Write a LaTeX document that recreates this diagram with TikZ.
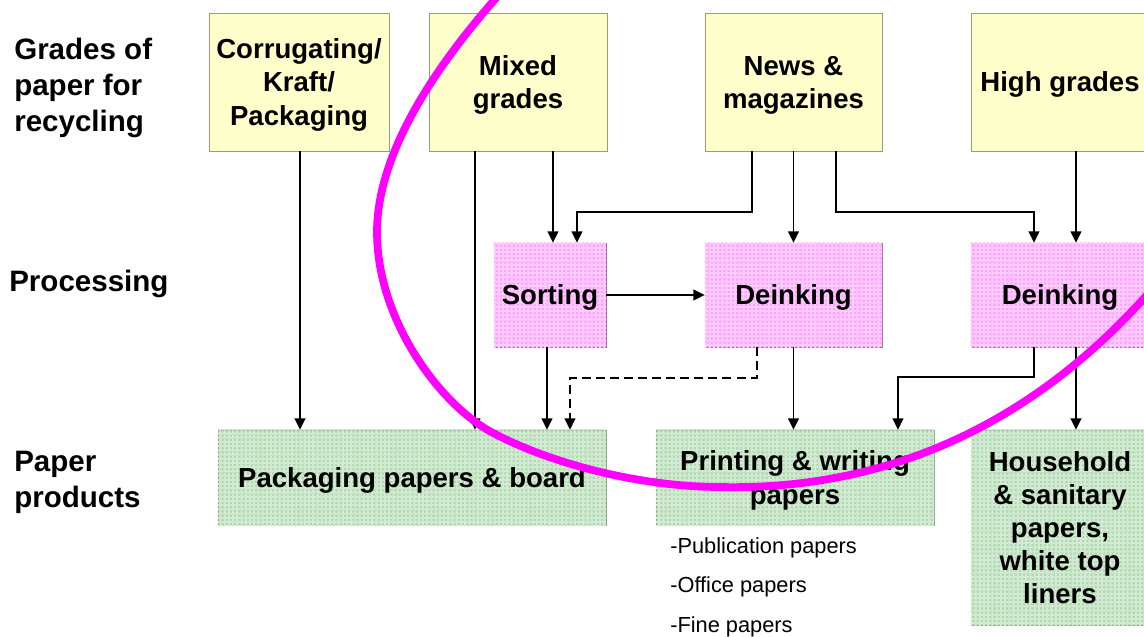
\documentclass[tikz,border=0pt]{standalone}
\usepackage{fontspec}
\setmainfont{Liberation Sans}
\usetikzlibrary{arrows.meta}
\usetikzlibrary{patterns}

\definecolor{gradefill}{HTML}{FFFFCC}
\definecolor{gradeline}{HTML}{9C9C78}
\definecolor{procfill}{HTML}{FF9CFF}
\definecolor{procgrid}{HTML}{FFCCFF}
\definecolor{procline}{HTML}{A066A0}
\definecolor{prodfill}{HTML}{ACD6AC}
\definecolor{prodgrid}{HTML}{D2EBD2}
\definecolor{prodline}{HTML}{8CA08C}
\definecolor{loopcol}{RGB}{255,0,255}

% checked cloth look of the boxes
\pgfdeclarepatternformonly{gingham}{\pgfqpoint{-0.1pt}{-0.1pt}}{\pgfqpoint{3.1pt}{3.1pt}}{\pgfqpoint{3pt}{3pt}}{
  \pgfpathrectangle{\pgfqpoint{0pt}{0pt}}{\pgfqpoint{1.5pt}{3pt}}
  \pgfpathrectangle{\pgfqpoint{0pt}{0pt}}{\pgfqpoint{3pt}{1.5pt}}
  \pgfusepath{fill}
}

\newcommand{\boxfont}{\fontsize{19.6}{23.5}\selectfont\bfseries}
\newcommand{\rowfont}{\fontsize{21}{25.5}\selectfont\bfseries}
\newcommand{\listfont}{\fontsize{15.5}{18}\selectfont}

\begin{document}
\begin{tikzpicture}[x=0.025cm, y=-0.025cm,
    grade/.style = {draw=gradeline, fill=gradefill, font=\boxfont, align=center,
                    minimum height=3.45cm, inner sep=2pt, text depth=-1pt},
    proc/.style  = {draw=procline, fill=procfill, postaction={pattern=gingham, pattern color=procgrid},
                    font=\boxfont, align=center, minimum height=2.6cm, inner sep=2pt, text depth=-1pt},
    prod/.style  = {draw=prodline, fill=prodfill, postaction={pattern=gingham, pattern color=prodgrid},
                    font=\boxfont, align=center, minimum height=2.375cm, inner sep=2pt, text depth=-1pt},
    rowlbl/.style = {font=\rowfont, align=left, anchor=west, inner sep=0pt},
    sublbl/.style = {font=\listfont, anchor=base west, inner sep=0pt},
    arr/.style = {-{Triangle[length=8pt,width=7.5pt]}, line width=1.4pt}]

    \useasboundingbox (0,0) rectangle (1144,637);
    \clip (0,0) rectangle (1144,637);

    % row labels
    \node[rowlbl] (rowgrades) at (14,88) {Grades of\\paper for\\recycling};
    \node[rowlbl] (rowproc) at (9,284) {Processing};
    \node[rowlbl] (rowprod) at (14,482) {Paper\\products};

    % grades of paper
    \node[grade, minimum width=4.5cm] (corr) at (299,82) {Corrugating/\\Kraft/\\Packaging};
    \node[grade, minimum width=4.45cm] (mixed) at (518,82) {Mixed\\grades};
    \node[grade, minimum width=4.425cm] (news) at (793.5,82) {News \&\\magazines};
    \node[grade, minimum width=4.45cm] (high) at (1060,82) {High grades};

    % processing
    \node[proc, minimum width=2.8cm] (sort) at (550,295) {Sorting};
    \node[proc, minimum width=4.425cm] (deinkA) at (793.5,295) {Deinking};
    \node[proc, minimum width=4.45cm] (deinkB) at (1060,295) {Deinking};

    % products
    \node[prod, minimum width=9.7cm] (pack) at (412,477.5) {Packaging papers \& board};
    \node[prod, minimum width=6.95cm] (print) at (795,477.5) {Printing \& writing\\papers};
    \node[prod, minimum width=4.45cm, minimum height=4.875cm] (house) at (1060,527.5)
        {Household\\\& sanitary\\papers,\\white top\\liners};

    \node[sublbl] (pub) at (670,553) {-Publication papers};
    \node[sublbl] (office) at (670,592) {-Office papers};
    \node[sublbl] (fine) at (670,632) {-Fine papers};

    % flows
    \draw[arr] (corr.south -| 300,0) -- (pack.north -| 300,0);
    \draw[arr] (mixed.south -| 475,0) -- (pack.north -| 475,0);
    \draw[arr] (mixed.south -| 553,0) -- (sort.north -| 553,0);
    \draw[arr] (news.south -| 752,0) |- (577,212) -- (sort.north -| 577,0);
    \draw[arr] (news.south) -- (deinkA.north);
    \draw[arr] (news.south -| 836,0) |- (1034,212) -- (deinkB.north -| 1034,0);
    \draw[arr] (high.south -| 1076,0) -- (deinkB.north -| 1076,0);
    \draw[arr] (sort.east) -- (deinkA.west);
    \draw[arr] (sort.south -| 547,0) -- (pack.north -| 547,0);
    \draw[arr, dash pattern=on 6.4pt off 3.6pt] (deinkA.south -| 757,0) |- (570,378) -- (pack.north -| 570,0);
    \draw[arr] (deinkA.south) -- (print.north -| deinkA.south);
    \draw[arr] (deinkB.south -| 1034,0) |- (898,377) -- (print.north -| 898,0);
    \draw[arr] (deinkB.south -| 1076,0) -- (house.north -| 1076,0);

    % loop
    \draw[loopcol, line width=5.5pt]
        (505,-12) .. controls (440,60) and (377,150) .. (377,232)
        .. controls (377,320) and (440,405) .. (493,433)
        .. controls (560,468) and (650,487) .. (720,487)
        .. controls (860,490) and (1020,445) .. (1160,280);

\end{tikzpicture}
\end{document}
